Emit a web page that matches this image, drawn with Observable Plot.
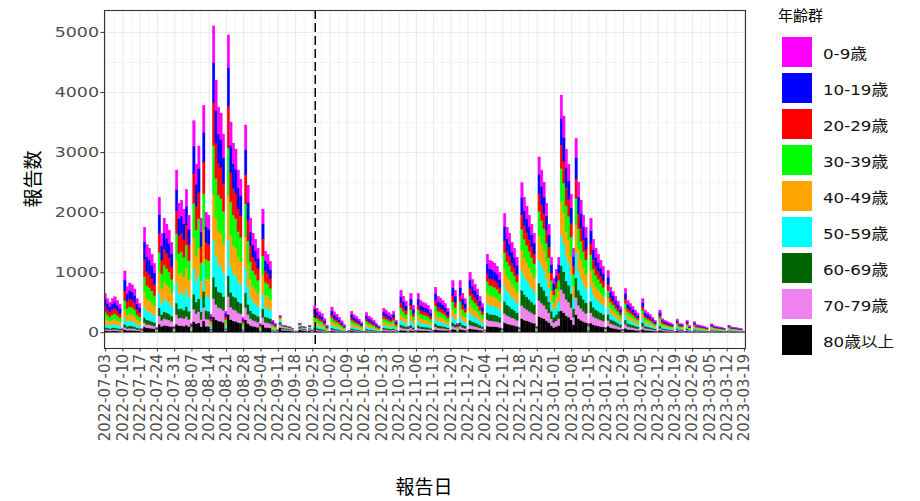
<!DOCTYPE html>
<html><head><meta charset="utf-8">
<script src="https://cdn.jsdelivr.net/npm/d3@7"></script>
<script src="https://cdn.jsdelivr.net/npm/@observablehq/plot@0.6"></script>
<style>
body{margin:0;background:#fff;}
#wrap{position:relative;width:920px;height:501px;overflow:hidden;background:#fff;}
#wrap svg{position:absolute;left:0;top:0;}
.cjk{font-family:"Noto Sans CJK JP","Noto Sans CJK SC",sans-serif;color:#000;position:absolute;white-space:nowrap;}
.key{position:absolute;width:30px;height:30px;}
.lab{position:absolute;font-family:"DejaVu Sans","Noto Sans CJK JP",sans-serif;font-size:14.5px;color:#111;white-space:nowrap;transform-origin:0 50%;}
</style></head><body><div id="wrap"></div>
<script>
// ---------- data ----------
const startDate = "2022-07-03";           // first report date (Sunday)
// daily total reports, one value per day from 2022-07-03 to 2023-03-19
const totals = [
  650, 560, 500, 560, 590, 530, 470,
  60, 1020, 760, 820, 790, 720, 560,
  480, 60, 1750, 1460, 1400, 1300, 1150,
  80, 2250, 1650, 1900, 1800, 1700, 1500,
  100, 2700, 2150, 2200, 2050, 2380, 1950,
  150, 3520, 2800, 3100, 1900, 3780, 2000,
  1950, 300, 5100, 4200, 3750, 3650, 3300,
  350, 4950, 3500, 3150, 3050, 2700, 2550,
  250, 3450, 2450, 1900, 1650, 1550, 1400,
  150, 2050, 1350, 1300, 1180, 200, 150,
  40, 280, 120, 110, 100, 90, 70,
  20, 20, 150, 100, 90, 20, 110,
  40, 450, 400, 340, 310, 230, 120,
  20, 420, 340, 300, 250, 190, 130,
  20, 30, 350, 290, 260, 220, 170,
  20, 330, 270, 240, 200, 150, 110,
  20, 400, 370, 330, 300, 350, 200,
  20, 700, 600, 520, 100, 650, 450,
  30, 650, 530, 500, 480, 450, 380,
  30, 750, 600, 570, 530, 480, 400,
  30, 860, 700, 150, 860, 650, 560,
  40, 1000, 880, 800, 720, 600, 480,
  40, 1300, 1200, 1180, 1150, 1100, 1000,
  60, 1980, 1750, 1650, 1500, 1400, 1250,
  80, 2490, 2250, 2100, 1950, 1800, 1650,
  100, 2920, 2700, 2500, 2150, 1800, 1250,
  900, 1050, 1250, 3950, 3600, 3050, 2800,
  2300, 1400, 3230, 2500, 2200, 1950, 1750,
  150, 1900, 1550, 1400, 1300, 1200, 1100,
  80, 1030, 750, 680, 600, 520, 430,
  50, 730, 530, 480, 430, 370, 320,
  30, 560, 370, 330, 300, 250, 200,
  20, 370, 230, 200, 180, 160, 140,
  15, 220, 150, 140, 20, 200, 110,
  15, 180, 130, 120, 110, 100, 80,
  10, 140, 110, 100, 90, 85, 70,
  10, 120, 90, 85, 80, 70, 60,
  10
];
// age groups (legend order, top of stack first)
const ages = ["0-9歳","10-19歳","20-29歳","30-39歳","40-49歳","50-59歳","60-69歳","70-79歳","80歳以上"];
const ageColors = ["#FF00FF","#0000FF","#FF0000","#00FF00","#FFA500","#00FFFF","#006400","#EE82EE","#000000"];
// weekly share (%) of each age group, 38 weeks starting Sunday 2022-07-03
const share0_9   = [15,15,14, 13,12,12,12,11,12,12, 4,4, 16,16,15,16,16,15,15,14,14,13, 12,11,10,10,10,10,11, 11,12,12,12,12,13,12,12,12];
const share10_19 = [17,17,17, 14,13,13,13,13,12,12, 4,4, 15,15,15,15,14,15,15,15,15,14, 13,12,11,11,11,11,11, 12,12,12,12,11,12,12,12,12];
const share20_29 = [16,16,16, 14,14,14,14,14,14,14, 5,5, 12,12,12,12,12,12,12,12,12,12, 10,10,10,10,10,10,10, 10,10,10,10,10,10,10,10,10];
const share30_39 = [15,15,15, 15,16,16,16,16,16,16, 7,7, 15,15,15,15,15,15,15,15,15,15, 14,14,14,14,14,14,14, 13,13,13,13,13,13,13,13,13];
const share40_49 = [14,14,14, 15,15,15,15,15,15,15, 8,8, 14,14,14,14,14,14,14,14,14,14, 14,14,14,14,14,14,14, 13,13,13,13,13,13,13,13,13];
const share50_59 = [10,10,10, 11,12,12,12,12,12,12, 12,12, 11,11,11,11,11,11,11,11,11,12, 12,13,13,13,13,13,13, 12,12,12,12,12,12,12,12,12];
const share60_69 = [5,5,5, 6,7,7,7,7,7,7, 15,15, 7,7,7,7,7,7,7,7,7,8, 9,10,10,10,10,10,10, 10,10,10,10,10,10,10,10,10];
const share70_79 = [4,4,4, 6,6,6,6,6,6,6, 18,18, 5,5,5,5,6,6,6,6,6,6, 8,8,9,9,9,9,9, 9,9,9,9,9,9,9,9,9];
const share80p   = [4,4,5, 6,5,5,5,6,6,6, 27,27, 5,5,6,5,5,5,5,6,6,6, 8,8,9,9,9,9,8, 10,9,9,9,10,8,9,9,9];
// x tick labels (weekly)
const tickLabels = ["2022-07-03","2022-07-10","2022-07-17","2022-07-24","2022-07-31","2022-08-07","2022-08-14","2022-08-21","2022-08-28","2022-09-04","2022-09-11","2022-09-18","2022-09-25","2022-10-02","2022-10-09","2022-10-16","2022-10-23","2022-10-30","2022-11-06","2022-11-13","2022-11-20","2022-11-27","2022-12-04","2022-12-11","2022-12-18","2022-12-25","2023-01-01","2023-01-08","2023-01-15","2023-01-22","2023-01-29","2023-02-05","2023-02-12","2023-02-19","2023-02-26","2023-03-05","2023-03-12","2023-03-19"];
const yTicks = [0,1000,2000,3000,4000,5000];
const yMinor = [500,1500,2500,3500,4500];
const changeDate = "2022-09-26";   // dashed reference line

// ---------- table ----------
const DAY = 864e5;
const shares = [share0_9,share10_19,share20_29,share30_39,share40_49,share50_59,share60_69,share70_79,share80p];
const t0 = Date.parse(startDate + "T00:00:00Z");
const table = [];
totals.forEach((tot, d) => {
  const w = Math.floor(d / 7);
  const t = t0 + d * DAY;
  for (let a = ages.length - 1; a >= 0; a--) {
    table.push({x1: new Date(t - 0.5*DAY), x2: new Date(t + 0.5*DAY), age: ages[a], value: tot * shares[a][w] / 100});
  }
});
const tickDates = tickLabels.map(s => new Date(s + "T00:00:00Z"));
const minorX = tickDates.slice(0, -1).map(d => new Date(+d + 3.5*DAY));
const xDomain = [new Date(t0 - 0.45*DAY), new Date(t0 + (totals.length - 1 + 0.45) * DAY)];

const grid = "#EBEBEB";
const marks = [
  Plot.ruleY(yMinor, {stroke: grid, strokeWidth: 0.6}),
  Plot.ruleX(minorX, {stroke: grid, strokeWidth: 0.6}),
  Plot.ruleY(yTicks, {stroke: grid, strokeWidth: 1.1}),
  Plot.ruleX(tickDates, {stroke: grid, strokeWidth: 1.1}),
  Plot.rectY(table, Plot.stackY({x1: "x1", x2: "x2", y: "value", fill: "age", stroke: "age", strokeWidth: 0.35, clip: true})),
  Plot.ruleX([new Date(changeDate + "T00:00:00Z")], {stroke: "#000", strokeWidth: 1.5, strokeDasharray: "9,4"}),
  Plot.frame({stroke: "#333333", strokeWidth: 1.1})
];
const opts = {
  width: 920, height: 501,
  marginLeft: 104, marginRight: 175, marginTop: 10, marginBottom: 153,
  style: {fontFamily: "DejaVu Sans, sans-serif", fontSize: "14px", background: "transparent", overflow: "visible"},
  x: {type: "utc", domain: xDomain},
  y: {domain: [-262, 5365]},
  color: {domain: ages, range: ageColors}
};
if (Plot.axisX) {
  marks.push(
    Plot.axisY(yTicks, {tickSize: 3.5, tickPadding: 2, fontSize: 14.5, stroke: "#333333", fill: "#4D4D4D", tickFormat: d3.format("d"), label: null}),
    Plot.axisX(tickDates, {tickSize: 3.5, tickPadding: 2, tickRotate: -90, fontSize: 15, stroke: "#333333", fill: "#4D4D4D", tickFormat: d3.utcFormat("%Y-%m-%d"), label: null})
  );
} else {
  opts.x = {...opts.x, ticks: tickDates, tickRotate: -90, tickSize: 3.5, tickPadding: 2, tickFormat: d3.utcFormat("%Y-%m-%d"), label: null};
  opts.y = {...opts.y, ticks: yTicks, tickSize: 3.5, tickPadding: 2, tickFormat: d3.format("d"), label: null};
}
opts.marks = marks;
const svg = Plot.plot(opts);
const wrap = document.getElementById("wrap");
wrap.appendChild(svg);
// widen y tick labels slightly (reference glyphs are wide)
svg.querySelectorAll('g[aria-label="y-axis tick label"] text').forEach(t => {
  const len = t.getComputedTextLength();
  if (len > 0) { t.setAttribute("textLength", (len * 1.2).toFixed(1)); t.setAttribute("lengthAdjust", "spacingAndGlyphs"); }
});

// titles
const yt = document.createElement("div");
yt.className = "cjk"; yt.textContent = "報告数";
yt.style.cssText += "font-size:19px;left:31px;top:179px;transform:translate(-50%,-50%) rotate(-90deg);";
wrap.appendChild(yt);
const xt = document.createElement("div");
xt.className = "cjk"; xt.textContent = "報告日";
xt.style.cssText += "font-size:19px;left:424px;top:485px;transform:translate(-50%,-50%);";
wrap.appendChild(xt);
// legend
const lt = document.createElement("div");
lt.className = "cjk"; lt.textContent = "年齢群";
lt.style.cssText += "font-size:15px;left:778px;top:14px;transform:translate(0,-50%);";
wrap.appendChild(lt);
ages.forEach((a, i) => {
  const k = document.createElement("div");
  k.className = "key";
  k.style.left = "782px"; k.style.top = (37 + 36*i) + "px"; k.style.background = ageColors[i];
  wrap.appendChild(k);
  const l = document.createElement("div");
  l.className = "lab"; l.textContent = a;
  l.style.left = "823px"; l.style.top = (52 + 36*i) + "px"; l.style.transform = "translate(0,-50%) scaleX(1.15)";
  wrap.appendChild(l);
});
</script></body></html>
